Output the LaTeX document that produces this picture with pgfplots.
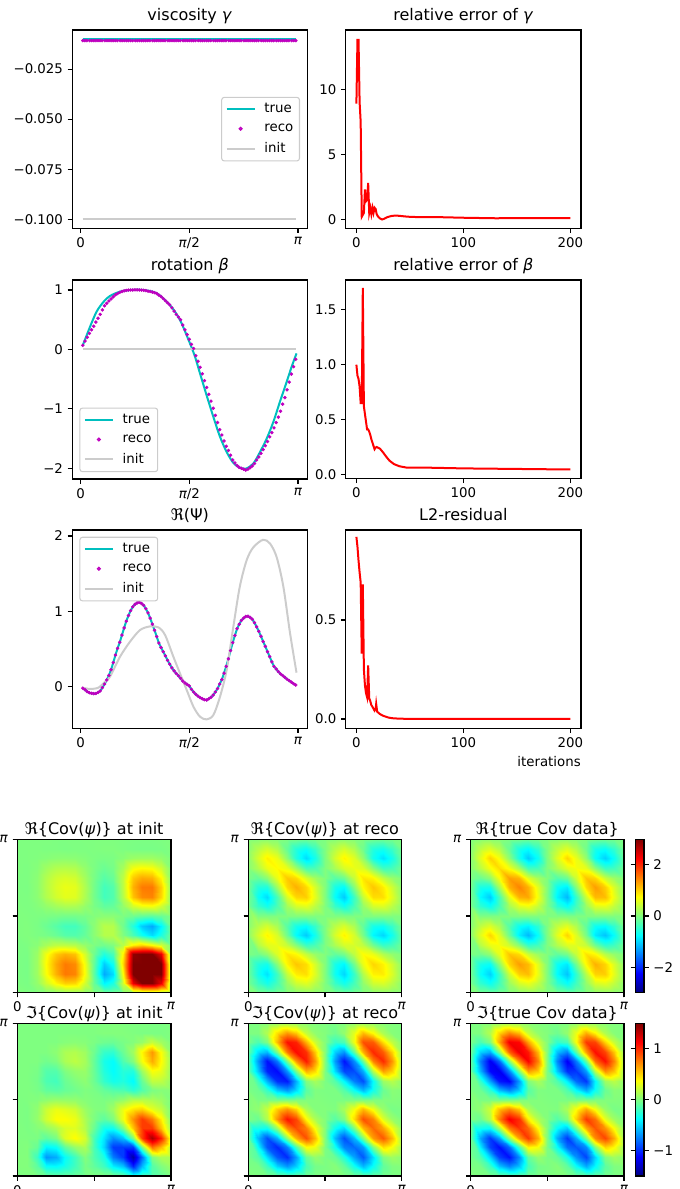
\documentclass[border=0pt]{standalone}
\usepackage{fontspec}
\setmainfont{DejaVu Sans}
\usepackage{pgfplots}
\usepackage{pgfplotstable}
\pgfplotsset{compat=1.18}
\definecolor{tc}{RGB}{0,191,191}
\definecolor{rc}{RGB}{191,0,191}
\definecolor{ic}{RGB}{204,204,204}
\definecolor{zero}{RGB}{128,255,128}
\pgfplotstableread{
x true
0.03 0.067
0.135 0.38
0.23 0.635
0.33 0.80
0.424 0.90
0.569 0.972
0.713 1.0
0.906 1.0
1.1 0.944
1.29 0.747
1.436 0.494
1.58 0.10
1.653 -0.124
1.725 -0.404
1.82 -0.77
1.918 -1.135
2.014 -1.47
2.11 -1.725
2.207 -1.91
2.30 -1.99
2.39 -2.005
2.496 -1.92
2.593 -1.725
2.689 -1.5
2.785 -1.22
2.88 -0.882
2.978 -0.545
3.05 -0.29
3.12 -0.067
}\betatrue
\pgfplotstableread[row sep=crcr]{
v\\
.07\\.14\\.205\\.27\\.33\\.39\\.46\\.525\\.59\\.665\\.735\\.775\\.815\\.85\\.885\\.92\\.94\\.96\\.975\\.985\\
.993\\.998\\1.0\\1.0\\1.002\\1.002\\1.0\\.998\\.995\\.99\\.98\\.975\\.965\\.955\\.94\\.915\\.89\\.855\\.82\\.785\\
.75\\.70\\.645\\.59\\.545\\.50\\.41\\.33\\.25\\.17\\.085\\.015\\-.105\\-.2\\-.30\\-.41\\-.525\\-.64\\-.755\\-.87\\
-.99\\-1.11\\-1.23\\-1.35\\-1.44\\-1.54\\-1.63\\-1.70\\-1.78\\-1.86\\-1.91\\-1.955\\-1.985\\-2.0\\-2.015\\-2.03\\-2.015\\-1.99\\-1.96\\-1.92\\
-1.86\\-1.81\\-1.75\\-1.685\\-1.62\\-1.55\\-1.47\\-1.40\\-1.32\\-1.23\\-1.14\\-1.04\\-.92\\-.81\\-.68\\-.55\\-.415\\-.29\\-.165\\
}\betareco
\pgfplotstableread[row sep=crcr]{
v\\
-.02\\-.04\\-.065\\-.08\\-.088\\-.092\\-.09\\-.076\\-.056\\-.012\\.035\\.09\\.15\\.225\\.32\\.42\\.51\\.59\\.685\\.78\\
.87\\.945\\1.01\\1.06\\1.093\\1.112\\1.12\\1.105\\1.08\\1.035\\.98\\.91\\.83\\.75\\.665\\.58\\.52\\.465\\.41\\.35\\
.30\\.25\\.21\\.175\\.145\\.11\\.075\\.05\\.03\\.01\\-.035\\-.07\\-.10\\-.125\\-.145\\-.16\\-.172\\-.177\\-.16\\-.14\\
-.11\\-.07\\-.025\\.035\\.095\\.18\\.27\\.37\\.48\\.585\\.68\\.77\\.83\\.88\\.91\\.932\\.935\\.92\\.895\\.85\\
.795\\.735\\.67\\.60\\.535\\.465\\.40\\.33\\.27\\.235\\.20\\.17\\.148\\.125\\.10\\.08\\.06\\.04\\.022\\
}\psireco
\pgfplotstableread{
x v
0.03 -0.013
0.135 -0.03
0.255 -0.013
0.352 0.066
0.424 0.133
0.569 0.398
0.713 0.597
0.858 0.752
1.0 0.80
1.123 0.788
1.22 0.686
1.34 0.398
1.436 0.177
1.533 -0.044
1.63 -0.265
1.725 -0.398
1.82 -0.434
1.918 -0.376
2.014 -0.133
2.11 0.221
2.207 0.796
2.30 1.327
2.40 1.681
2.496 1.85
2.636 1.95
2.737 1.90
2.833 1.72
2.93 1.327
3.027 0.708
3.12 0.186
}\psiinit
% covariance maps: 17 x 17, one row per line, top row first
\pgfplotstableread[row sep=crcr]{
v\\
0\\0\\0\\0\\-.01\\-.01\\-.01\\0\\0\\0\\0\\-.01\\-.02\\-.02\\-.02\\-.01\\0\\
0\\0\\0\\-.01\\-.01\\-.02\\-.01\\-.01\\0\\.01\\.01\\-.01\\-.03\\-.04\\-.04\\-.03\\0\\
0\\0\\.01\\.04\\.07\\.08\\.07\\.03\\-.01\\-.03\\-.02\\.06\\.16\\.18\\.18\\.12\\.01\\
0\\-.01\\.04\\.19\\.30\\.32\\.29\\.12\\-.02\\-.12\\-.05\\.24\\.68\\.76\\.71\\.47\\.03\\
-.01\\-.01\\.07\\.30\\.47\\.53\\.48\\.21\\-.04\\-.24\\-.13\\.37\\1.07\\1.26\\1.21\\.80\\.06\\
-.01\\-.02\\.08\\.32\\.53\\.63\\.59\\.27\\-.07\\-.36\\-.25\\.37\\1.21\\1.53\\1.54\\1.03\\.09\\
-.01\\-.01\\.07\\.29\\.48\\.59\\.56\\.26\\-.07\\-.36\\-.27\\.32\\1.10\\1.43\\1.47\\.99\\.09\\
0\\-.01\\.03\\.12\\.21\\.27\\.26\\.12\\-.04\\-.18\\-.15\\.13\\.49\\.66\\.70\\.47\\.05\\
0\\0\\-.01\\-.02\\-.04\\-.07\\-.07\\-.04\\.02\\.07\\.07\\-.01\\-.10\\-.18\\-.22\\-.15\\-.02\\
0\\.01\\-.03\\-.12\\-.24\\-.36\\-.36\\-.18\\.07\\.33\\.31\\-.09\\-.56\\-1.05\\-1.25\\-.80\\-.08\\
0\\.01\\-.02\\-.05\\-.13\\-.25\\-.27\\-.15\\.07\\.31\\.32\\0\\-.32\\-.66\\-.95\\-.59\\-.08\\
-.01\\-.01\\.06\\.24\\.37\\.37\\.32\\.13\\-.01\\-.09\\0\\.33\\.83\\1.0\\.76\\.49\\.02\\
-.02\\-.03\\.16\\.68\\1.07\\1.21\\1.10\\.49\\-.10\\-.56\\-.32\\.83\\2.9\\3.3\\3.2\\2.4\\.14\\
-.02\\-.04\\.18\\.76\\1.26\\1.53\\1.43\\.66\\-.18\\-1.05\\-.66\\1.0\\3.3\\3.70\\3.77\\3.1\\.22\\
-.02\\-.04\\.18\\.71\\1.21\\1.54\\1.47\\.70\\-.22\\-1.25\\-.95\\.76\\3.2\\3.77\\3.96\\3.2\\.25\\
-.01\\-.03\\.12\\.47\\.80\\1.03\\.99\\.47\\-.15\\-.80\\-.59\\.49\\2.4\\3.1\\3.2\\2.4\\.18\\
0\\0\\.01\\.03\\.06\\.09\\.09\\.05\\-.02\\-.08\\-.08\\.02\\.14\\.22\\.25\\.18\\.02\\
}\rinit
\pgfplotstableread[row sep=crcr]{
v\\
.01\\.05\\.08\\.05\\-.02\\-.07\\-.11\\-.06\\0\\.05\\.09\\.05\\-.01\\-.09\\-.10\\-.06\\-.01\\
.05\\.33\\.50\\.30\\-.15\\-.54\\-.69\\-.43\\0\\.33\\.51\\.29\\-.09\\-.55\\-.64\\-.41\\-.06\\
.08\\.50\\.83\\.63\\.07\\-.56\\-.95\\-.63\\0\\.50\\.81\\.56\\.10\\-.64\\-.91\\-.63\\-.10\\
.05\\.30\\.63\\.77\\.62\\.19\\-.33\\-.30\\.01\\.25\\.52\\.62\\.54\\.05\\-.39\\-.34\\-.06\\
-.02\\-.15\\.07\\.62\\1.07\\.97\\.52\\.21\\.01\\-.24\\-.11\\.41\\.89\\.80\\.40\\.15\\.02\\
-.07\\-.54\\-.56\\.19\\.97\\1.21\\.98\\.50\\.01\\-.63\\-.75\\.04\\.78\\1.08\\.85\\.46\\.06\\
-.11\\-.69\\-.95\\-.33\\.52\\.98\\1.03\\.59\\0\\-.74\\-1.05\\-.40\\.41\\.95\\.93\\.57\\.09\\
-.06\\-.43\\-.63\\-.30\\.21\\.50\\.59\\.35\\0\\-.44\\-.65\\-.31\\.14\\.50\\.55\\.34\\.05\\
0\\0\\0\\.01\\.01\\.01\\0\\0\\0\\0\\0\\0\\.01\\.01\\0\\0\\0\\
.05\\.33\\.50\\.25\\-.24\\-.63\\-.74\\-.44\\0\\.35\\.52\\.26\\-.18\\-.63\\-.68\\-.43\\-.06\\
.09\\.51\\.81\\.52\\-.11\\-.75\\-1.05\\-.65\\0\\.52\\.82\\.50\\-.06\\-.79\\-.98\\-.65\\-.11\\
.05\\.29\\.56\\.62\\.41\\.04\\-.40\\-.31\\0\\.26\\.50\\.50\\.37\\-.08\\-.43\\-.34\\-.06\\
-.01\\-.09\\.10\\.54\\.89\\.78\\.41\\.14\\.01\\-.18\\-.06\\.37\\.75\\.64\\.30\\.11\\.01\\
-.09\\-.55\\-.64\\.05\\.80\\1.08\\.95\\.50\\.01\\-.63\\-.79\\-.08\\.64\\.99\\.82\\.47\\.07\\
-.10\\-.64\\-.91\\-.39\\.40\\.85\\.93\\.55\\0\\-.68\\-.98\\-.43\\.30\\.82\\.85\\.53\\.08\\
-.06\\-.41\\-.63\\-.34\\.15\\.46\\.57\\.34\\0\\-.43\\-.65\\-.34\\.11\\.47\\.53\\.34\\.05\\
-.01\\-.06\\-.10\\-.06\\.02\\.06\\.09\\.05\\0\\-.06\\-.11\\-.06\\.01\\.07\\.08\\.05\\.01\\
}\rreco
\pgfplotstableread[row sep=crcr]{
v\\
.01\\.06\\.09\\.06\\-.02\\-.07\\-.12\\-.07\\0\\.06\\.10\\.06\\-.01\\-.09\\-.11\\-.07\\-.01\\
.06\\.37\\.56\\.33\\-.13\\-.6\\-.76\\-.47\\0\\.37\\.57\\.32\\-.08\\-.61\\-.71\\-.46\\-.07\\
.09\\.56\\1.01\\.70\\.08\\-.62\\-1.05\\-.69\\0\\.55\\.99\\.62\\.11\\-.71\\-1.01\\-.69\\-.11\\
.06\\.33\\.70\\.95\\.69\\.21\\-.36\\-.34\\.01\\.28\\.58\\.69\\.60\\.06\\-.42\\-.37\\-.07\\
-.02\\-.13\\.08\\.69\\1.31\\1.19\\.58\\.23\\.01\\-.26\\-.12\\.46\\1.09\\.98\\.44\\.17\\.02\\
-.09\\-.6\\-.62\\.21\\1.19\\1.47\\1.2\\.56\\.01\\-.69\\-.84\\.04\\.96\\1.32\\1.03\\.51\\.07\\
-.12\\-.76\\-1.05\\-.36\\.58\\1.2\\1.25\\.66\\0\\-.81\\-1.16\\-.44\\.45\\1.15\\1.13\\.63\\.10\\
-.07\\-.47\\-.69\\-.34\\.23\\.56\\.66\\.39\\0\\-.49\\-.72\\-.35\\.16\\.56\\.61\\.38\\.06\\
0\\0\\0\\.01\\.01\\.01\\0\\0\\0\\0\\0\\0\\.01\\.01\\0\\0\\0\\
.06\\.37\\.55\\.28\\-.26\\-.69\\-.81\\-.49\\0\\.39\\.58\\.29\\-.19\\-.69\\-.75\\-.47\\-.07\\
.10\\.57\\.99\\.58\\-.12\\-.84\\-1.16\\-.72\\0\\.58\\1.0\\.55\\-.06\\-.87\\-1.09\\-.72\\-.12\\
.06\\.32\\.62\\.69\\.46\\.04\\-.44\\-.35\\0\\.29\\.55\\.56\\.41\\-.09\\-.47\\-.37\\-.07\\
-.01\\-.08\\.11\\.60\\1.09\\.96\\.45\\.16\\.01\\-.19\\-.06\\.41\\.91\\.78\\.33\\.12\\.01\\
-.09\\-.61\\-.71\\.06\\.98\\1.32\\1.15\\.56\\.01\\-.69\\-.87\\-.09\\.78\\1.21\\1.0\\.52\\.08\\
-.11\\-.71\\-1.01\\-.42\\.44\\1.03\\1.13\\.61\\0\\-.75\\-1.09\\-.47\\.33\\1.0\\1.03\\.59\\.09\\
-.07\\-.46\\-.69\\-.37\\.17\\.51\\.63\\.38\\0\\-.47\\-.72\\-.37\\.12\\.52\\.59\\.38\\.06\\
-.01\\-.07\\-.11\\-.07\\.02\\.07\\.10\\.06\\0\\-.07\\-.12\\-.07\\.01\\.08\\.09\\.06\\.01\\
}\rtrue
\pgfplotstableread[row sep=crcr]{
v\\
0\\0\\0\\0\\0\\0\\0\\0\\0\\0\\.01\\0\\0\\0\\-.01\\-.01\\0\\
0\\0\\0\\0\\0\\0\\0\\0\\0\\.01\\.01\\.01\\0\\-.01\\-.01\\-.01\\0\\
0\\0\\0\\0\\0\\.02\\.03\\.02\\-.01\\-.05\\-.06\\-.02\\.01\\.07\\.20\\.10\\.01\\
0\\0\\0\\0\\.04\\.13\\.15\\.09\\-.05\\-.22\\-.24\\-.06\\.10\\.40\\.68\\.36\\.05\\
0\\0\\0\\-.04\\0\\.13\\.18\\.11\\-.08\\-.31\\-.37\\-.14\\.02\\.35\\.62\\.38\\.08\\
0\\0\\-.02\\-.13\\-.13\\0\\.06\\.07\\-.07\\-.28\\-.37\\-.26\\-.28\\.09\\.36\\.30\\.07\\
0\\0\\-.03\\-.15\\-.18\\-.06\\0\\.04\\-.06\\-.23\\-.32\\-.28\\-.38\\-.07\\.19\\.18\\.06\\
0\\0\\-.02\\-.09\\-.11\\-.07\\-.04\\0\\-.02\\-.08\\-.13\\-.15\\-.25\\-.13\\-.01\\.02\\.02\\
0\\0\\.01\\.05\\.08\\.07\\.06\\.02\\0\\-.01\\.01\\.07\\.17\\.17\\.14\\.09\\0\\
0\\-.01\\.05\\.22\\.31\\.28\\.23\\.08\\.01\\0\\.10\\.32\\.45\\.5\\.3\\.2\\0\\
0\\-.01\\.06\\.24\\.37\\.37\\.32\\.13\\-.01\\-.10\\0\\.33\\.7\\.95\\.76\\.42\\.02\\
0\\-.01\\.02\\.06\\.14\\.26\\.28\\.15\\-.07\\-.32\\-.33\\0\\.55\\.95\\.95\\.55\\.08\\
0\\0\\-.01\\-.10\\-.02\\.28\\.38\\.25\\-.17\\-.45\\-.7\\-.55\\0\\.95\\1.38\\1.03\\.3\\
0\\.01\\-.07\\-.4\\-.35\\-.09\\.07\\.13\\-.17\\-.5\\-.95\\-.95\\-.95\\0\\.8\\.58\\.16\\
.01\\.01\\-.2\\-.68\\-.62\\-.36\\-.19\\.01\\-.14\\-.3\\-.76\\-.95\\-1.38\\-.8\\0\\.13\\.12\\
.01\\.01\\-.1\\-.36\\-.38\\-.30\\-.18\\-.02\\-.09\\-.2\\-.42\\-.55\\-1.03\\-.58\\-.13\\0\\.08\\
0\\0\\-.01\\-.05\\-.08\\-.07\\-.06\\-.02\\0\\0\\-.02\\-.08\\-.3\\-.16\\-.12\\-.08\\0\\
}\iinit
\pgfplotstableread[row sep=crcr]{
v\\
0\\0\\.02\\.07\\.10\\.08\\.04\\.01\\0\\-.01\\0\\.05\\.08\\.07\\.03\\.01\\0\\
0\\0\\.15\\.47\\.68\\.54\\.20\\.05\\.01\\-.05\\.06\\.30\\.58\\.38\\.13\\.02\\0\\
-.02\\-.15\\0\\.58\\1.08\\1.03\\.60\\.22\\.01\\-.21\\-.15\\.33\\.89\\.86\\.47\\.19\\.02\\
-.07\\-.47\\-.58\\0\\.77\\1.10\\.99\\.53\\.01\\-.52\\-.69\\-.09\\.61\\1.01\\.86\\.50\\.07\\
-.10\\-.68\\-1.08\\-.77\\0\\.69\\1.05\\.68\\0\\-.68\\-1.07\\-.71\\-.05\\.75\\1.0\\.68\\.10\\
-.08\\-.54\\-1.03\\-1.10\\-.69\\0\\.61\\.48\\-.01\\-.49\\-.92\\-.90\\-.61\\.16\\.66\\.51\\.08\\
-.04\\-.20\\-.60\\-.99\\-1.05\\-.61\\0\\.11\\-.01\\-.13\\-.39\\-.75\\-.89\\-.37\\.08\\.16\\.04\\
-.01\\-.05\\-.22\\-.53\\-.68\\-.48\\-.11\\0\\-.01\\-.01\\-.13\\-.35\\-.58\\-.32\\-.06\\.03\\.01\\
0\\-.01\\-.01\\-.01\\0\\.01\\.01\\.01\\0\\-.01\\-.01\\-.01\\0\\.01\\.01\\.01\\0\\
.01\\.05\\.21\\.52\\.68\\.49\\.13\\.01\\.01\\0\\.12\\.34\\.58\\.33\\.07\\-.02\\-.01\\
0\\-.06\\.15\\.69\\1.07\\.92\\.39\\.13\\.01\\-.12\\0\\.48\\.89\\.74\\.28\\.08\\0\\
-.05\\-.30\\-.33\\.09\\.71\\.90\\.75\\.35\\.01\\-.34\\-.48\\0\\.58\\.81\\.64\\.33\\.05\\
-.08\\-.58\\-.89\\-.61\\.05\\.61\\.89\\.58\\0\\-.58\\-.89\\-.58\\0\\.67\\.86\\.58\\.08\\
-.07\\-.38\\-.86\\-1.01\\-.75\\-.16\\.37\\.32\\-.01\\-.33\\-.74\\-.81\\-.67\\0\\.47\\.35\\.07\\
-.03\\-.13\\-.47\\-.86\\-1.0\\-.66\\-.08\\.06\\-.01\\-.07\\-.28\\-.64\\-.86\\-.47\\0\\.09\\.03\\
-.01\\-.02\\-.19\\-.50\\-.68\\-.51\\-.16\\-.03\\-.01\\.02\\-.08\\-.33\\-.58\\-.35\\-.09\\0\\.01\\
0\\0\\-.02\\-.07\\-.10\\-.08\\-.04\\-.01\\0\\.01\\0\\-.05\\-.08\\-.07\\-.03\\-.01\\0\\
}\ireco
\pgfplotstableread[row sep=crcr]{
v\\
0\\0\\.02\\.07\\.11\\.09\\.04\\.01\\0\\-.01\\0\\.05\\.09\\.07\\.03\\.01\\0\\
0\\0\\.16\\.5\\.73\\.58\\.21\\.05\\.01\\-.05\\.06\\.32\\.62\\.41\\.14\\.02\\0\\
-.02\\-.16\\0\\.62\\1.16\\1.11\\.65\\.24\\.01\\-.23\\-.16\\.36\\.96\\.93\\.50\\.20\\.02\\
-.07\\-.5\\-.62\\0\\.83\\1.18\\1.06\\.57\\.01\\-.56\\-.74\\-.10\\.66\\1.09\\.93\\.54\\.07\\
-.11\\-.73\\-1.16\\-.83\\0\\.74\\1.13\\.73\\0\\-.73\\-1.15\\-.76\\-.05\\.81\\1.08\\.73\\.11\\
-.09\\-.58\\-1.11\\-1.18\\-.74\\0\\.66\\.52\\-.01\\-.53\\-.99\\-.97\\-.66\\.17\\.71\\.55\\.09\\
-.04\\-.21\\-.65\\-1.06\\-1.13\\-.66\\0\\.12\\-.01\\-.14\\-.42\\-.81\\-.96\\-.40\\.09\\.17\\.04\\
-.01\\-.05\\-.24\\-.57\\-.73\\-.52\\-.12\\0\\-.01\\-.01\\-.14\\-.38\\-.62\\-.34\\-.06\\.03\\.01\\
0\\-.01\\-.01\\-.01\\0\\.01\\.01\\.01\\0\\-.01\\-.01\\-.01\\0\\.01\\.01\\.01\\0\\
.01\\.05\\.23\\.56\\.73\\.53\\.14\\.01\\.01\\0\\.13\\.37\\.62\\.35\\.07\\-.02\\-.01\\
0\\-.06\\.16\\.74\\1.15\\.99\\.42\\.14\\.01\\-.13\\0\\.52\\.96\\.80\\.30\\.09\\0\\
-.05\\-.32\\-.36\\.10\\.76\\.97\\.81\\.38\\.01\\-.37\\-.52\\0\\.62\\.87\\.69\\.35\\.05\\
-.09\\-.62\\-.96\\-.66\\.05\\.66\\.96\\.62\\0\\-.62\\-.96\\-.62\\0\\.72\\.92\\.62\\.09\\
-.07\\-.41\\-.93\\-1.09\\-.81\\-.17\\.40\\.34\\-.01\\-.35\\-.80\\-.87\\-.72\\0\\.50\\.38\\.07\\
-.03\\-.14\\-.50\\-.93\\-1.08\\-.71\\-.09\\.06\\-.01\\-.07\\-.30\\-.69\\-.92\\-.50\\0\\.10\\.03\\
-.01\\-.02\\-.20\\-.54\\-.73\\-.55\\-.17\\-.03\\-.01\\.02\\-.09\\-.35\\-.62\\-.38\\-.10\\0\\.01\\
0\\0\\-.02\\-.07\\-.11\\-.09\\-.04\\-.01\\0\\.01\\0\\-.05\\-.09\\-.07\\-.03\\-.01\\0\\
}\itrue
\pgfplotsset{
  base/.style={scale only axis, tick align=outside, tick pos=left, major tick length=3.5pt,
    axis line style={line width=0.8pt}, every tick/.style={black,line width=0.8pt},
    tick label style={font=\fontsize{10}{12}\selectfont},
    title style={font=\fontsize{12}{14}\selectfont, at={(0.5,1)}, anchor=base, yshift=0.8pt},
    label style={font=\fontsize{10}{12}\selectfont},
    clip=false,
    legend cell align=left,
    legend style={font=\fontsize{10}{12}\selectfont, draw=black!20, rounded corners=2pt, line width=0.8pt,
      fill opacity=0.8, text opacity=1, inner sep=3pt, nodes={inner sep=1.6pt},
      /tikz/row sep=3.7pt, /tikz/column sep=5pt}},
  box/.style n args={4}{at={(#1*0.75pt,{(1189-#4)*0.75pt})}, anchor=south west,
    width={(#2-#1)*0.75pt}, height={(#4-#3)*0.75pt}},
  lineleg/.style={legend image code/.code={\draw[##1] (0pt,0pt) -- (21pt,0pt);}},
  dotleg/.style={legend image code/.code={\fill[rc] (10.5pt,0pt) circle (1.1pt);}},
  pilot/.style={base, xmin=-0.121, xmax=3.276, xtick={0,1.5708,3.1416}, xticklabels={0,\textit{π}/2,\textit{π}}},
  iter/.style={base, xmin=-10, xmax=210, xtick={0,100,200}, xticklabels={0,100,200}},
  heat/.style={base, view={0}{90}, axis on top, xmin=0, xmax=16, ymin=0, ymax=16, xtick={0,8,16}, ytick={0,8,16},
    xticklabels={0,,\textit{π}}, yticklabels={,,\textit{π}},
    title style={yshift=-3.5pt}, colormap/jet, axis background/.style={fill=zero}},
  rmap/.style={heat, point meta min=-3, point meta max=3},
  imap/.style={heat, point meta min=-1.5, point meta max=1.5},
  bar/.style={colorbar, colorbar style={at={(1.0737,0)}, anchor=south west, width=6.5pt, height=#1, scale only axis,
    tick align=outside, major tick length=3.5pt, yticklabel pos=right,
    axis line style={line width=0.8pt}, every tick/.style={black,line width=0.8pt},
    tick label style={font=\fontsize{10}{12}\selectfont}}}
}
\newcommand{\heatmap}[1]{\addplot3[surf, shader=interp, mesh/cols=17] table[x expr={mod(\coordindex,17)}, y expr={16-floor(\coordindex/17)}, y index=0, z=v, meta=v] {#1};}
\begin{document}
\begin{tikzpicture}
\useasboundingbox (0,0) rectangle (509.25pt,891.75pt);
\begin{axis}[pilot, box={72.3}{307.3}{30}{228.3}, ymin=-0.1045, ymax=-0.0055,
  ytick={-0.1,-0.075,-0.05,-0.025}, yticklabels={−0.100,−0.075,−0.050,−0.025},
  title={viscosity \textit{γ}}, legend style={at={(0.969,0.5)}, anchor=east}]
\addplot[tc, line width=1.5pt, lineleg] coordinates {(0.03,-0.0102) (3.11,-0.0102)};
\addlegendentry{true}
\addplot[only marks, mark=*, mark size=1.1pt, rc, dotleg] coordinates {(.03,-.0108) (.06,-.0108) (.09,-.0108) (.13,-.0108) (.16,-.0108) (.19,-.0108) (.22,-.0108) (.25,-.0108) (.28,-.0108) (.31,-.0108) (.35,-.0108) (.38,-.0108) (.41,-.0108) (.44,-.0108) (.47,-.0108) (.5,-.0108) (.53,-.0108) (.57,-.0108) (.6,-.0108) (.63,-.0108) (.66,-.0108) (.69,-.0108) (.72,-.0108) (.75,-.0108) (.79,-.0108) (.82,-.0108) (.85,-.0108) (.88,-.0108) (.91,-.0108) (.94,-.0108) (.97,-.0108) (1,-.0108) (1.04,-.0108) (1.07,-.0108) (1.1,-.0108) (1.13,-.0108) (1.16,-.0108) (1.19,-.0108) (1.22,-.0108) (1.26,-.0108) (1.29,-.0108) (1.32,-.0108) (1.35,-.0108) (1.38,-.0108) (1.41,-.0108) (1.44,-.0108) (1.48,-.0108) (1.51,-.0108) (1.54,-.0108) (1.57,-.0108) (1.6,-.0108) (1.63,-.0108) (1.66,-.0108) (1.7,-.0108) (1.73,-.0108) (1.76,-.0108) (1.79,-.0108) (1.82,-.0108) (1.85,-.0108) (1.88,-.0108) (1.92,-.0108) (1.95,-.0108) (1.98,-.0108) (2.01,-.0108) (2.04,-.0108) (2.07,-.0108) (2.1,-.0108) (2.14,-.0108) (2.17,-.0108) (2.2,-.0108) (2.23,-.0108) (2.26,-.0108) (2.29,-.0108) (2.32,-.0108) (2.36,-.0108) (2.39,-.0108) (2.42,-.0108) (2.45,-.0108) (2.48,-.0108) (2.51,-.0108) (2.54,-.0108) (2.57,-.0108) (2.61,-.0108) (2.64,-.0108) (2.67,-.0108) (2.7,-.0108) (2.73,-.0108) (2.76,-.0108) (2.79,-.0108) (2.83,-.0108) (2.86,-.0108) (2.89,-.0108) (2.92,-.0108) (2.95,-.0108) (2.98,-.0108) (3.01,-.0108) (3.05,-.0108) (3.08,-.0108) (3.11,-.0108)};
\addlegendentry{reco}
\addplot[ic, line width=1.5pt, lineleg] coordinates {(0.03,-0.1) (3.11,-0.1)};
\addlegendentry{init}
\end{axis}
\begin{axis}[iter, box={345.7}{581}{30}{228.3}, ymin=-0.68, ymax=14.55, ytick={0,5,10}, yticklabels={0,5,10},
  title={relative error of \textit{γ}}]
\addplot[red, line width=1.5pt] coordinates {(0,8.9) (1,13.8) (2,13.8) (3,9.0) (4,7.5) (5,.2) (6,.35) (7,.5) (8,2.3) (9,1.4) (10,1.5) (11,2.8) (12,.5) (13,.9) (14,.4) (15,.9) (16,.5) (17,.9) (18,.8) (19,.4) (20,.25) (22,.08) (24,0) (26,.05) (29,.18) (33,.27) (37,.3) (42,.26) (48,.21) (60,.17) (80,.17) (100,.13) (130,.09) (160,.1) (200,.1)};
\end{axis}
\begin{axis}[pilot, box={72.3}{307.3}{280}{479}, ymin=-2.18, ymax=1.168,
  ytick={-2,-1,0,1}, yticklabels={−2,−1,0,1},
  title={rotation \textit{β}}, legend style={at={(0.03,0.034)}, anchor=south west}]
\addplot[tc, line width=1.5pt, lineleg, smooth] table[x=x, y=true] {\betatrue};
\addlegendentry{true}
\addplot[only marks, mark=*, mark size=1.1pt, rc, dotleg] table[x expr={0.0314*(\coordindex+1)}, y index=0, y=v] {\betareco};
\addlegendentry{reco}
\addplot[ic, line width=1.5pt, lineleg] coordinates {(0.03,0) (3.11,0)};
\addlegendentry{init}
\end{axis}
\begin{axis}[iter, box={345.7}{581}{280}{478.5}, ymin=-0.037, ymax=1.772, ytick={0,0.5,1,1.5},
  yticklabels={0.0,0.5,1.0,1.5}, title={relative error of \textit{β}}]
\addplot[red, line width=1.5pt] coordinates {(0,1) (1,.9) (2,.87) (3,.8) (4,.65) (5,.65) (6,1.7) (7,.62) (8,.55) (9,.48) (10,.41) (11,.41) (12,.39) (13,.36) (14,.32) (15,.29) (16,.26) (17,.23) (18,.245) (19,.25) (20,.245) (22,.235) (25,.2) (28,.16) (31,.125) (35,.095) (40,.075) (47,.062) (65,.062) (100,.055) (150,.05) (200,.045)};
\end{axis}
\begin{axis}[pilot, box={72.3}{307.3}{530}{728.3}, ymin=-0.552, ymax=2.08,
  ytick={0,1,2}, yticklabels={0,1,2}, title={ℜ(Ψ)}, legend style={at={(0.03,0.966)}, anchor=north west}]
\addplot[tc, line width=1.5pt, lineleg] table[x expr={0.0314*(\coordindex+1)}, y index=0, y=v] {\psireco};
\addlegendentry{true}
\addplot[only marks, mark=*, mark size=1.1pt, rc, dotleg] table[x expr={0.0314*(\coordindex+1)}, y index=0, y=v] {\psireco};
\addlegendentry{reco}
\addplot[ic, line width=1.5pt, lineleg, smooth] table[x=x, y=v] {\psiinit};
\addlegendentry{init}
\end{axis}
\begin{axis}[iter, box={345.7}{581}{530}{728.3}, ymin=-0.047, ymax=0.9545, ytick={0,0.5},
  yticklabels={0.0,0.5}, title={L2-residual}, xlabel={iterations},
  xlabel style={at={(1,0)}, anchor=north east, inner sep=0pt, yshift=-20.8pt}]
\addplot[red, line width=1.5pt] coordinates {(0,.92) (1,.87) (2,.80) (3,.74) (4,.69) (5,.33) (6,.68) (7,.25) (8,.17) (9,.13) (10,.11) (11,.27) (12,.105) (13,.09) (14,.07) (15,.062) (16,.052) (17,.042) (18,.05) (18.5,.076) (19.4,.037) (22,.025) (25,.016) (30,.007) (35,.003) (45,.001) (60,0) (200,0)};
\end{axis}
\begin{axis}[rmap, box={17.3}{171}{839.3}{992.7}, title={ℜ\{Cov(\textit{ψ})\} at init}]
\heatmap{\rinit}
\end{axis}
\begin{axis}[rmap, box={248.3}{401.7}{839.3}{992.7}, title={ℜ\{Cov(\textit{ψ})\} at reco}]
\heatmap{\rreco}
\end{axis}
\begin{axis}[rmap, box={470.7}{624}{839.3}{992.7}, title={ℜ\{true Cov data\}}, bar=115pt,
  colorbar style={ytick={-2,0,2}, yticklabels={−2,0,2}}]
\heatmap{\rtrue}
\end{axis}
\begin{axis}[imap, box={17.3}{171}{1023.3}{1176}, title={ℑ\{Cov(\textit{ψ})\} at init}]
\heatmap{\iinit}
\end{axis}
\begin{axis}[imap, box={248.3}{401.7}{1023.3}{1176}, title={ℑ\{Cov(\textit{ψ})\} at reco}]
\heatmap{\ireco}
\end{axis}
\begin{axis}[imap, box={470.7}{624}{1023.3}{1176}, title={ℑ\{true Cov data\}}, bar=114.5pt,
  colorbar style={ytick={-1,0,1}, yticklabels={−1,0,1}}]
\heatmap{\itrue}
\end{axis}
\end{tikzpicture}
\end{document}
